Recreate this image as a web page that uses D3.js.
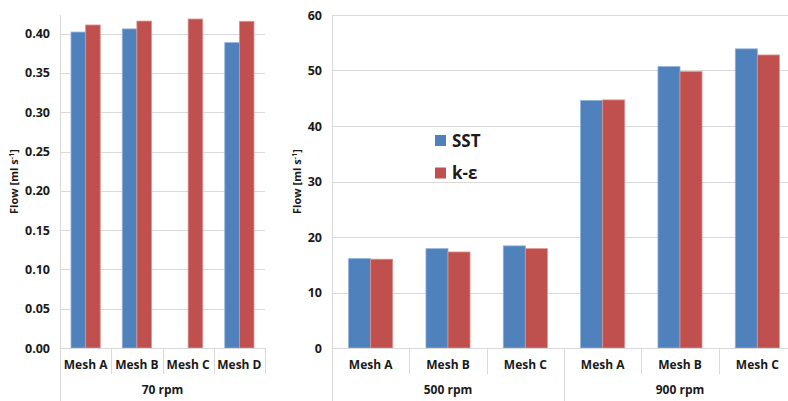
<!DOCTYPE html>
<html>
<head>
<meta charset="utf-8">
<script src="https://cdn.jsdelivr.net/npm/d3@7"></script>
<style>
  html, body { margin: 0; padding: 0; background: #fff; }
  svg { display: block; }
  text { font-family: "Open Sans", "Liberation Sans", sans-serif; font-weight: bold; fill: #1a1a1a; }
</style>
</head>
<body>
<svg id="chart" width="788" height="401"></svg>
<script>
// Flow rate per mesh, two turbulence models
const seriesNames = ["SST", "k-ε"];
const seriesColors = ["#4F81BD", "#C0504D"];

// 70 rpm panel (ml/s)
const meshes70 = ["Mesh A", "Mesh B", "Mesh C", "Mesh D"];
const group70 = "70 rpm";
const sst70 = [0.402, 0.406, null, 0.3885];
const ke70 = [0.411, 0.416, 0.4186, 0.4157];
const ticks70 = [0, 0.05, 0.10, 0.15, 0.20, 0.25, 0.30, 0.35, 0.40];

// 500 / 900 rpm panel (ml/s)
const groupsHigh = ["500 rpm", "900 rpm"];
const meshesHigh = ["Mesh A", "Mesh B", "Mesh C"];
const sstHigh = [16.1, 17.9, 18.4, 44.6, 50.7, 53.9];
const keHigh = [16.0, 17.3, 17.9, 44.7, 49.8, 52.8];
const ticksHigh = [0, 10, 20, 30, 40, 50, 60];

const svg = d3.select("#chart");
const gridColor = "#d9d9d9";

function drawPanel(opts) {
  const { x0, x1, yTop, yBase, domainMax, ticks, fmt, cats, groupLabels, groupSize, sst, ke, titleX } = opts;
  const g = svg.append("g");
  const keys = cats.map((c, i) => i);
  const x = d3.scaleBand().domain(keys).range([x0, x1]).padding(0);
  const bw = x.bandwidth();
  const xs = d3.scaleBand().domain([0, 1]).range([bw * 0.215, bw * 0.785]).padding(0);
  const y = d3.scaleLinear().domain([0, domainMax]).range([yBase, yTop]);

  // horizontal gridlines
  g.append("g").selectAll("line").data(ticks.filter(t => t > 0)).join("line")
    .attr("x1", x0).attr("x2", x1)
    .attr("y1", d => Math.round(y(d)) + 0.5).attr("y2", d => Math.round(y(d)) + 0.5)
    .attr("stroke", gridColor).attr("stroke-width", 1);

  // bars
  const rows = keys.map(i => ({ i, vals: [sst[i], ke[i]] }));
  const grp = g.append("g").selectAll("g").data(rows).join("g")
    .attr("transform", d => `translate(${x(d.i)},0)`);
  grp.selectAll("rect").data(d => d.vals.map((v, s) => ({ v, s })).filter(e => e.v != null)).join("rect")
    .attr("x", e => xs(e.s))
    .attr("width", xs.bandwidth())
    .attr("y", e => y(e.v))
    .attr("height", e => y(0) - y(e.v))
    .attr("fill", e => seriesColors[e.s])
    .attr("stroke", e => e.s === 0 ? "#8fb0da" : "#dc9391")
    .attr("stroke-width", 0.8);

  // value axis line
  g.append("line").attr("x1", x0 + 0.5).attr("x2", x0 + 0.5).attr("y1", yTop).attr("y2", 401)
    .attr("stroke", gridColor);
  // category axis line
  g.append("line").attr("x1", x0).attr("x2", x1).attr("y1", Math.round(yBase) + 0.5).attr("y2", Math.round(yBase) + 0.5)
    .attr("stroke", gridColor);

  // value axis
  const yAxis = d3.axisLeft(y).tickValues(ticks).tickFormat(fmt).tickSize(0).tickPadding(10);
  const ya = g.append("g").attr("transform", `translate(${x0},0)`).call(yAxis);
  ya.select(".domain").remove();
  ya.selectAll("text").attr("font-size", 12.5).attr("font-family", null).attr("fill", null);

  // category separators
  keys.forEach(i => {
    const bx = x(i) + bw;
    const isGroupEdge = (i + 1) % groupSize === 0 && i + 1 < keys.length;
    g.append("line").attr("x1", Math.round(bx) + 0.5).attr("x2", Math.round(bx) + 0.5)
      .attr("y1", yBase).attr("y2", isGroupEdge ? 401 : yBase + 26)
      .attr("stroke", gridColor);
  });

  // category labels
  const xa = d3.axisBottom(x).tickFormat(i => cats[i]).tickSize(0).tickPadding(0);
  const xag = g.append("g").attr("transform", `translate(0,${yBase})`).call(xa);
  xag.select(".domain").remove();
  xag.selectAll("text").attr("font-size", 12).attr("font-family", null).attr("fill", null)
    .attr("dy", null).attr("y", 21);

  // group labels
  groupLabels.forEach((lab, gi) => {
    const gx0 = x(gi * groupSize);
    const gx1 = x(gi * groupSize + groupSize - 1) + bw;
    g.append("text").attr("x", (gx0 + gx1) / 2).attr("y", yBase + 46)
      .attr("text-anchor", "middle").attr("font-size", 12).text(lab);
  });

  // value axis title
  const t = g.append("text").attr("transform", `translate(${titleX},${(yTop + yBase) / 2}) rotate(-90)`)
    .attr("text-anchor", "middle").attr("font-size", 11);
  t.append("tspan").text("Flow [ml s");
  t.append("tspan").attr("font-size", 7.5).attr("dy", -4).text("-1");
  t.append("tspan").attr("dy", 4).text("]");
}

drawPanel({
  x0: 60, x1: 265, yTop: 15, yBase: 348, domainMax: 0.4237,
  ticks: ticks70, fmt: d3.format(".2f"), cats: meshes70, groupLabels: [group70], groupSize: 4,
  sst: sst70, ke: ke70, titleX: 18
});

drawPanel({
  x0: 332, x1: 796, yTop: 15, yBase: 348, domainMax: 60,
  ticks: ticksHigh, fmt: d3.format("d"), cats: groupsHigh.flatMap(() => meshesHigh), groupLabels: groupsHigh, groupSize: 3,
  sst: sstHigh, ke: keHigh, titleX: 301
});

// legend
const legend = svg.append("g").attr("transform", "translate(435,135)");
seriesNames.forEach((name, i) => {
  const row = legend.append("g").attr("transform", `translate(0,${i * 32.5})`);
  row.append("rect").attr("width", 11).attr("height", 11).attr("fill", seriesColors[i]);
  row.append("text").attr("x", 17).attr("y", 11.5).attr("font-size", 17).text(name);
});
</script>
</body>
</html>
